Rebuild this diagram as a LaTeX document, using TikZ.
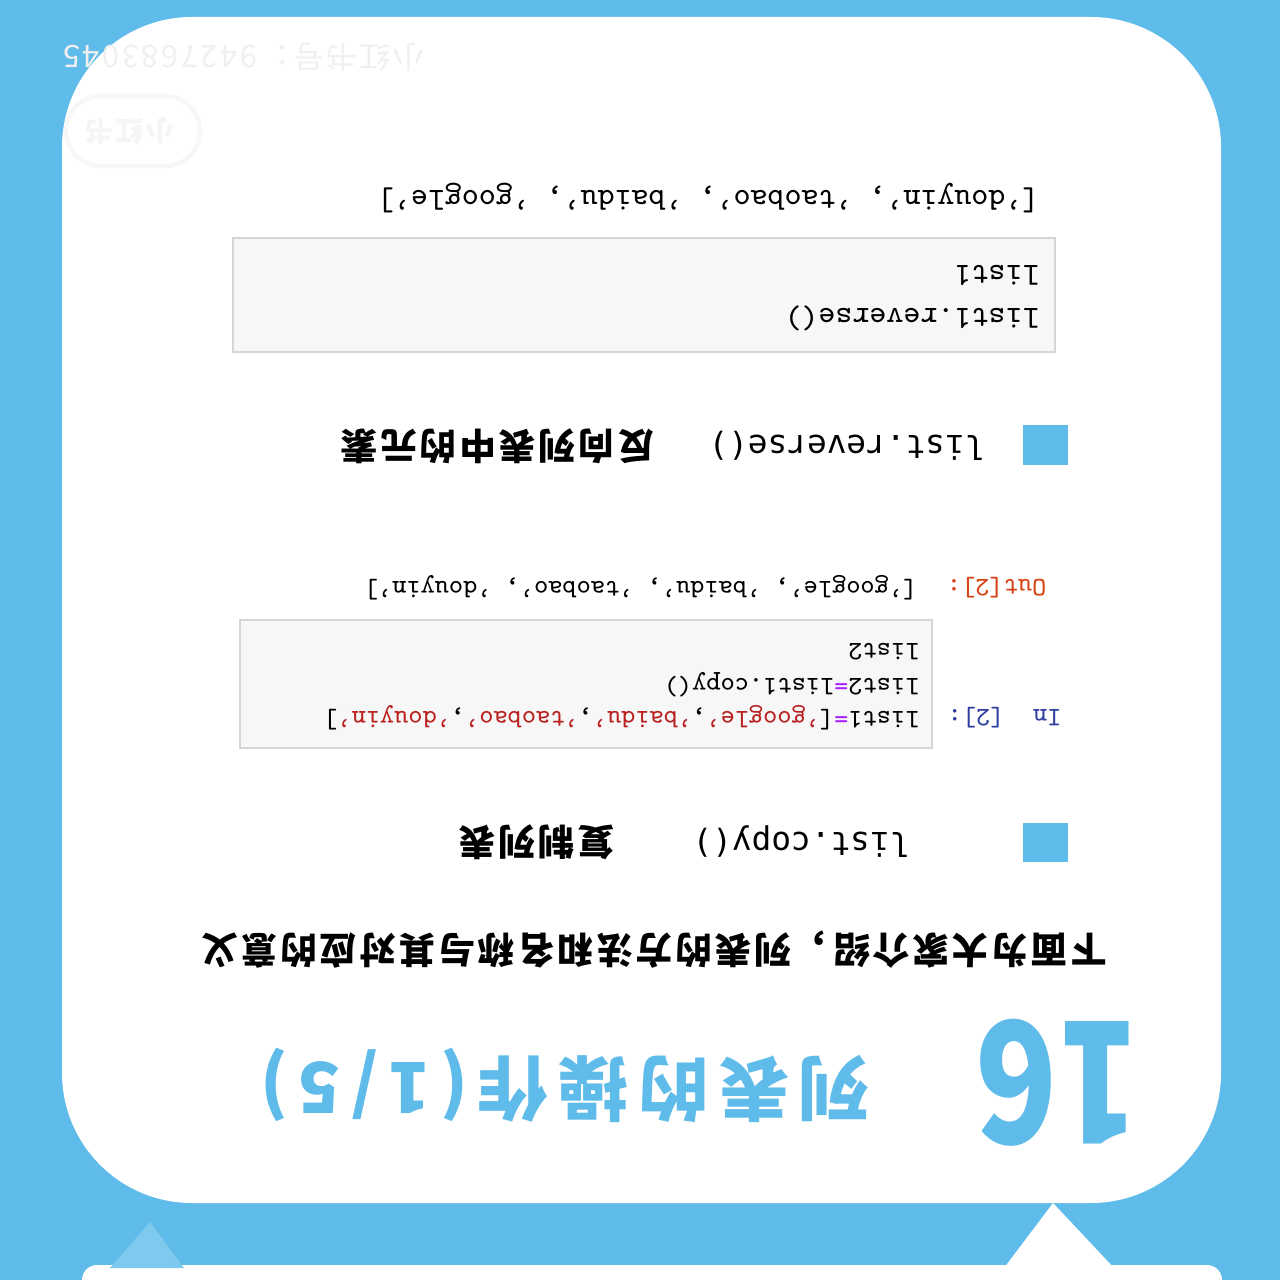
\documentclass[tikz,border=0pt]{standalone}
\usepackage{fontspec}
\setmainfont{Noto Sans CJK SC}
\newfontfamily\cjk{Noto Sans CJK SC}[LetterSpace=8]
\newfontfamily\titlefont{Noto Sans CJK SC}[LetterSpace=14]
\newfontfamily\tagfont{DejaVu Sans Mono}
\definecolor{skyblue}{RGB}{94,187,234}
\definecolor{codegray}{RGB}{247,247,247}
\definecolor{codeline}{RGB}{214,214,214}
\definecolor{opcolor}{RGB}{170,34,255}
\definecolor{strcolor}{RGB}{186,33,33}
\definecolor{incolor}{RGB}{48,63,159}
\definecolor{outcolor}{RGB}{216,67,21}
\tikzset{
  flip/.style={rotate=180, anchor=west, inner sep=0pt},
  smallcode/.style={flip, font=\ttfamily\fontsize{7.6}{9}\selectfont},
  bigcode/.style={flip, font=\ttfamily\fontsize{9.2}{11}\selectfont},
  method/.style={flip, font=\tagfont\fontsize{9.3}{11}\selectfont},
  meaning/.style={flip, font=\cjk\bfseries\fontsize{10.4}{12}\selectfont},
  codebox/.style={fill=codegray, draw=codeline, line width=.6pt},
  marker/.style={fill=skyblue}
}
\begin{document}
\begin{tikzpicture}[x=0.01cm,y=-0.01cm]
  \useasboundingbox (0,0) rectangle (1280,1280);
  \clip (0,0) rectangle (1280,1280);
  % background and cards
    \fill[skyblue] (0,0) rectangle (1280,1280);
    \fill[white, rounded corners=1.3cm] (62,17) rectangle (1221,1203);
    \fill[white, rounded corners=.15cm] (82,1265) rectangle (1222,1340);
    \fill[white] (1004,1268) -- (1053,1203) -- (1114,1268) -- cycle;
    \fill[skyblue!80!white] (110,1268) -- (150,1222) -- (184,1268) -- cycle;
  % watermark
    \node[flip, text=black!6, font=\cjk\fontsize{8.8}{10}\selectfont] (wm) at (425,57) {小红书号：9427683045};
    \draw[black!3, line width=1.2pt, rounded corners=.35cm] (66,96) rectangle (200,166);
    \node[flip, text=black!4, font=\cjk\bfseries\fontsize{8}{9}\selectfont] (stamp) at (175,131) {小红书};
  % heading
    \node[flip, xscale=.8, text=skyblue, font=\bfseries\fontsize{48}{50}\selectfont] (num) at (1140,1083) {16};
    \node[flip, text=skyblue, font=\titlefont\bfseries\fontsize{20}{22}\selectfont] (title) at (870,1085) {列表的操作(1/5)};
    \node[meaning] (intro) at (1108,950) {下面为大家介绍，列表的方法和名称与其对应的意义};
  % list.copy()
    \fill[marker] (1023,823) rectangle (1068,862);
    \node[method] (copy) at (910,842) {list.copy()};
    \node[meaning] (copy-m) at (615,842) {复制列表};
    \draw[codebox] (240,620) rectangle (932,748);
    \node[smallcode, text=incolor] (in2) at (1062,718) {In\ \ [2]:};
    \node[smallcode] (c1) at (920,718) {list1\textcolor{opcolor}{=}[\textcolor{strcolor}{’google’},\textcolor{strcolor}{’baidu’},\textcolor{strcolor}{’taobao’},\textcolor{strcolor}{’douyin’}]};
    \node[smallcode] (c2) at (920,685) {list2\textcolor{opcolor}{=}list1.copy()};
    \node[smallcode] (c3) at (920,652) {list2};
    \node[smallcode, text=outcolor] (out2) at (1047,588) {Out[2]:};
    \node[smallcode] (o1) at (918,588) {[’google’, ’baidu’, ’taobao’, ’douyin’]};
  % list.reverse()
    \fill[marker] (1023,425) rectangle (1068,465);
    \node[method] (rev) at (985,446) {list.reverse()};
    \node[meaning] (rev-m) at (655,446) {反向列表中的元素};
    \draw[codebox] (233,238) rectangle (1055,352);
    \node[bigcode] (r1) at (1040,318) {list1.reverse()};
    \node[bigcode] (r2) at (1040,275) {list1};
    \node[bigcode] (o2) at (1040,198) {[’douyin’, ’taobao’, ’baidu’, ’google’]};
\end{tikzpicture}
\end{document}
